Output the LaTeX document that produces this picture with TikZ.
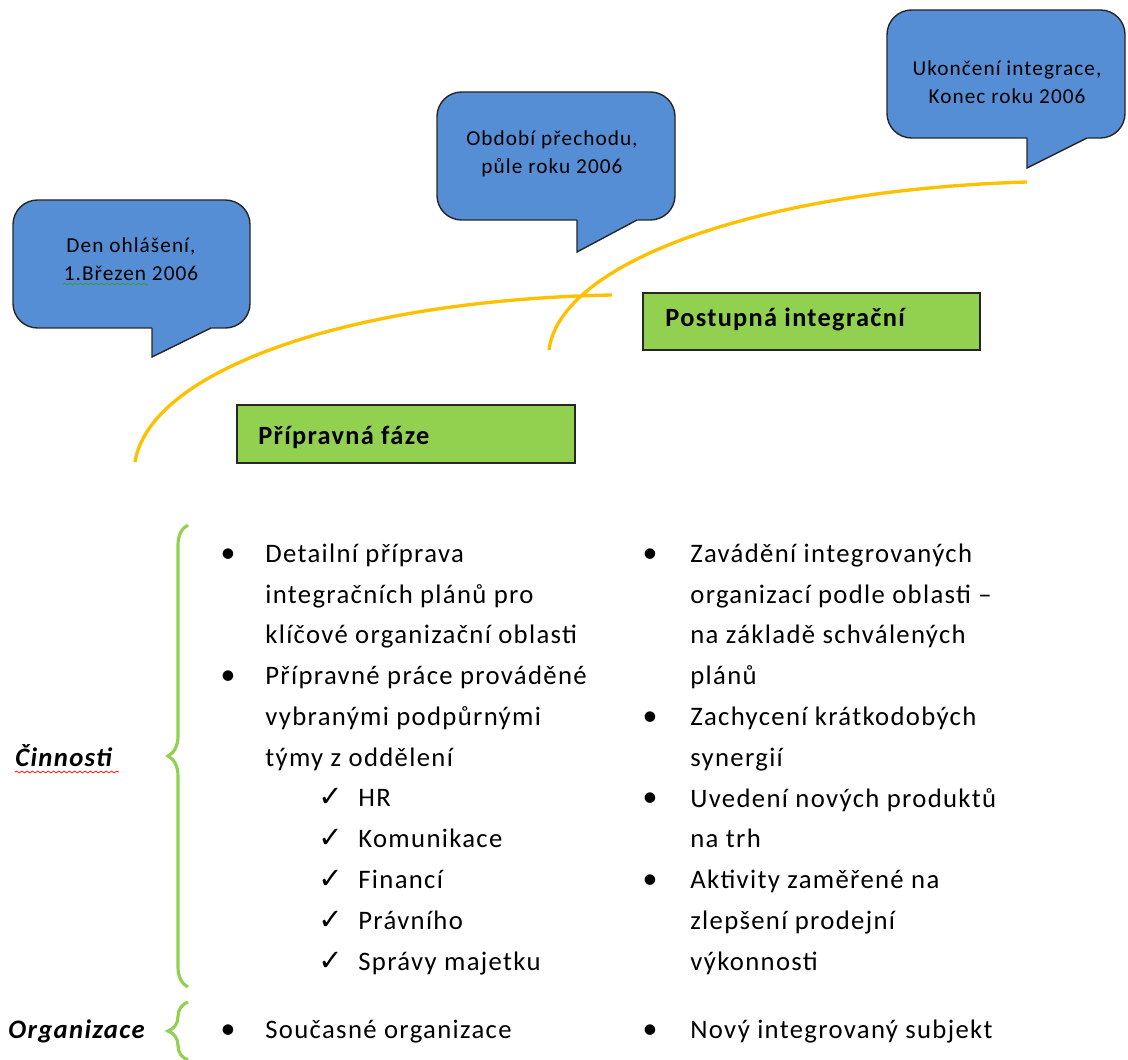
\documentclass[tikz,border=0pt]{standalone}
\usepackage{fontspec}
\setmainfont{Carlito}[LetterSpace=5]
\newfontfamily\symfont{DejaVu Sans}
\usetikzlibrary{decorations.pathreplacing,decorations.pathmorphing}

\definecolor{calloutblue}{HTML}{558ED5}
\definecolor{phasegreen}{HTML}{92D050}
\definecolor{arcorange}{HTML}{FFC000}
\definecolor{spellgreen}{HTML}{2FA02F}

\newcommand{\bodysize}{\fontsize{15.2}{23.1}\selectfont}
\newcommand{\calloutsize}{\fontsize{12.1}{15.9}\selectfont}

\tikzstyle{callout}=[draw=black!85,fill=calloutblue,thick,rounded corners=14pt]
\tikzstyle{tail}=[fill=calloutblue]
\tikzstyle{tailedge}=[draw=black!85,thick,line join=miter]
\tikzstyle{callout_text}=[align=center,font=\calloutsize,inner sep=0pt]
\tikzstyle{phasebox}=[draw=black!85,fill=phasegreen,thick]
\tikzstyle{phase_label}=[anchor=base west,inner sep=0pt,font=\fontsize{15}{18}\selectfont\bfseries]
\tikzstyle{timeline}=[draw=arcorange,line width=1.9pt]
\tikzstyle{grouping}=[draw=phasegreen,line width=1.8pt,decorate,decoration={brace,amplitude=0.4cm}]
\tikzstyle{dot}=[anchor=base,inner sep=0pt,font=\fontsize{17}{20}\selectfont]
% multi-line items: base is the baseline of the last line
\tikzstyle{item}=[anchor=base west,align=left,inner sep=0pt,font=\bodysize]
\tikzstyle{tick}=[anchor=base west,inner sep=0pt,font=\symfont\bfseries\fontsize{16.5}{18}\selectfont]
\tikzstyle{row_label}=[anchor=base west,inner sep=0pt,font=\bodysize\bfseries\itshape]
\tikzstyle{squiggle}=[thin,decorate,decoration={snake,amplitude=0.5pt,segment length=3pt}]

\begin{document}
\begin{tikzpicture}[x=0.02cm,y=-0.02cm]
\useasboundingbox (0,0) rectangle (1128,1060);
\clip (0,0) rectangle (1128,1060);

% callouts
\draw[callout] (13,200) rectangle (250,328);
\fill[tail] (152,325.5) -- (152,357) -- (211,328) -- (213,325.5) -- cycle;
\draw[tailedge] (152,328) -- (152,357) -- (211,328);
\node[callout_text] (den) at (131,259) {Den ohlášení,\\1.Březen 2006};
\draw[squiggle,spellgreen] (63,284) -- (148,284);

\draw[callout] (437,92) rectangle (675,220);
\fill[tail] (577,217.5) -- (577,252) -- (637,220) -- (639,217.5) -- cycle;
\draw[tailedge] (577,220) -- (577,252) -- (637,220);
\node[callout_text] (obdobi) at (552,154) {Období přechodu,\\půle roku 2006};

\draw[callout] (887,10) rectangle (1125,138);
\fill[tail] (1027,135.5) -- (1027,168) -- (1087,138) -- (1089,135.5) -- cycle;
\draw[tailedge] (1027,138) -- (1027,168) -- (1087,138);
\node[callout_text] (ukonceni) at (1007,82) {Ukončení integrace,\\Konec roku 2006};

% timeline arcs
\draw[timeline] (135,462) .. controls (150,370) and (350,300) .. (612,295);
\draw[timeline] (549,350) .. controls (560,262) and (760,190) .. (1027,182);

% phases
\draw[phasebox] (237,405) rectangle (575,463);
\node[phase_label] (pripravna) at (258,444) {Přípravná fáze};
\draw[phasebox] (643,293) rectangle (980,350);
\node[phase_label] (postupna) at (665,327) {Postupná integrační};

% row labels and braces
\node[row_label] (cinnosti) at (15,766) {Činnosti};
\draw[squiggle,red] (15,772) -- (119,772);
\draw[grouping] (188,987) -- (188,525);
\node[row_label] (organizace) at (8,1038) {Organizace};
\draw[grouping] (188,1060) -- (188,1002);

% first column
\node[dot] (dot11) at (228,562) {•};
\node[item] (detail) at (265,643.6) {Detailní příprava\\integračních plánů pro\\klíčové organizační oblasti};
\node[dot] (dot12) at (228,684.4) {•};
\node[item] (prace) at (265,766) {Přípravné práce prováděné\\vybranými podpůrnými\\týmy z oddělení};

\node[tick] (tick1) at (318,806.8) {✓};
\node[item] (hr) at (358,806.8) {HR};
\node[tick] (tick2) at (318,847.6) {✓};
\node[item] (komunikace) at (358,847.6) {Komunikace};
\node[tick] (tick3) at (318,888.4) {✓};
\node[item] (financi) at (358,888.4) {Financí};
\node[tick] (tick4) at (318,929.2) {✓};
\node[item] (pravniho) at (358,929.2) {Právního};
\node[tick] (tick5) at (318,970) {✓};
\node[item] (majetek) at (358,970) {Správy majetku};

% second column
\node[dot] (dot21) at (650,562) {•};
\node[item] (zavadeni) at (690,684.4) {Zavádění integrovaných\\organizací podle oblasti –\\na základě schválených\\plánů};
\node[dot] (dot22) at (650,725.2) {•};
\node[item] (synergie) at (690,766) {Zachycení krátkodobých\\synergií};
\node[dot] (dot23) at (650,806.8) {•};
\node[item] (produkty) at (690,847.6) {Uvedení nových produktů\\na trh};
\node[dot] (dot24) at (650,888.4) {•};
\node[item] (aktivity) at (690,970) {Aktivity zaměřené na\\zlepšení prodejní\\výkonnosti};

% organisation row
\node[dot] (dot31) at (228,1038) {•};
\node[item] (soucasne) at (265,1038) {Současné organizace};
\node[dot] (dot32) at (650,1038) {•};
\node[item] (novy) at (690,1038) {Nový integrovaný subjekt};

\end{tikzpicture}
\end{document}
